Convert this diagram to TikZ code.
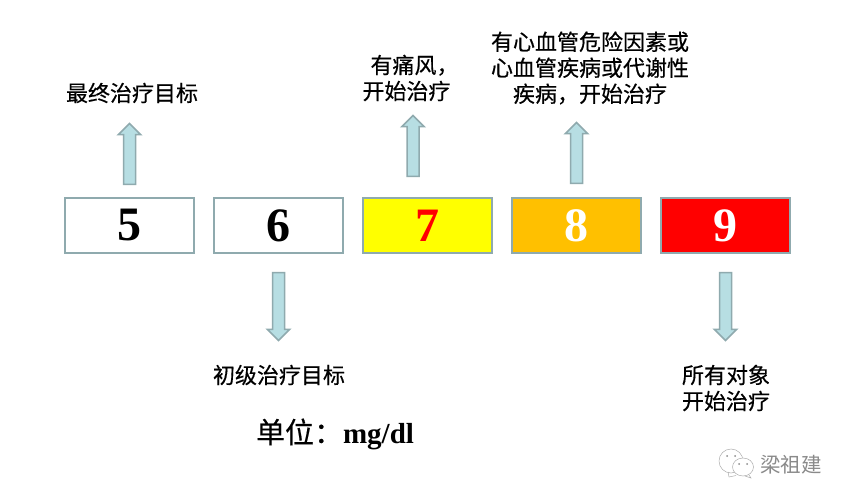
\documentclass[tikz,border=0pt]{standalone}
\usepackage{fontspec}
\setmainfont{Liberation Serif}
\newfontfamily\cjk{Noto Sans CJK SC}
\newfontfamily\cjkb[FakeBold=0.4]{Noto Sans CJK SC}
\usetikzlibrary{shapes.arrows}
\definecolor{edgec}{HTML}{8FAAAE}
\definecolor{fillc}{HTML}{B7DEE3}
\definecolor{orangec}{HTML}{FFC000}
\definecolor{yellowc}{HTML}{FFFF00}
\definecolor{redc}{HTML}{FF0000}
\definecolor{markc}{HTML}{8A8A8A}
\tikzset{
  x=1pt,y=-1pt,
  valbox/.style={draw=edgec,line width=2pt,minimum width=128.5pt,minimum height=54.5pt,inner sep=0pt,outer sep=0pt,
    font=\fontsize{48}{48}\selectfont\bfseries},
  blockarrow/.style={single arrow,draw=edgec,fill=fillc,line width=1.5pt,inner sep=5.25pt,outer sep=0pt,
    single arrow head extend=5.25pt,single arrow tip angle=90,single arrow head indent=0pt},
  note/.style={align=center,inner sep=0pt,font=\cjkb\fontsize{22}{26}\selectfont},
  markpen/.style={draw=markc!70,line width=0.5pt}
}
\begin{document}
\begin{tikzpicture}
\useasboundingbox (0,0) rectangle (850,502);
\fill[white] (0,0) rectangle (850,502);
% value boxes
\node[valbox] (b5) at (129.5,225.5) {5};
\node[valbox] (b6) at (278.5,225.5) {6};
\node[valbox,fill=yellowc,text=redc] (b7) at (427.5,225.5) {7};
\node[valbox,fill=orangec,text=white] (b8) at (576.5,225.5) {8};
\node[valbox,fill=redc,text=white] (b9) at (725.5,225.5) {9};
% block arrows
\node[blockarrow,rotate=90,minimum height=61pt] (a5) at (129.5,157) {};
\node[blockarrow,rotate=-90,minimum height=68pt] (a6) at (278.5,303.5) {};
\node[blockarrow,rotate=90,minimum height=61pt] (a7) at (413,149) {};
\node[blockarrow,rotate=90,minimum height=61pt] (a8) at (576.5,156) {};
\node[blockarrow,rotate=-90,minimum height=68pt] (a9) at (725.5,303.5) {};
% labels
\node[note] (t5) at (132,93) {最终治疗目标};
\node[note] (t6) at (279,375) {初级治疗目标};
\node[note] (t7) at (406.5,78) {\hspace*{16pt}有痛风，\\开始治疗};
\node[note] (t8) at (590,68) {有心血管危险因素或\\心血管疾病或代谢性\\疾病，开始治疗};
\node[note] (t9) at (726,388) {所有对象\\开始治疗};
\node[inner sep=0pt,font=\fontsize{29}{32}\selectfont\bfseries] (unit) at (335,434) {{\cjkb\mdseries 单位：}mg/dl};
% watermark
\draw[markpen,fill=white] (731,461) ellipse (12 and 12);
\draw[markpen,fill=white] (743,467) ellipse (10.5 and 9);
\draw[markpen] (736,475.5) -- (729,477) -- (728,472);
\draw[markpen] (749,475) -- (751,478) -- (745,476);
\fill[markc] (727,456) circle (1) (735,456) circle (1) (739,464) circle (1) (747,464) circle (1);
\node[inner sep=0pt,text=markc,font=\cjk\fontsize{20.5}{22}\selectfont] (wm) at (791,465) {梁祖建};
\end{tikzpicture}
\end{document}
